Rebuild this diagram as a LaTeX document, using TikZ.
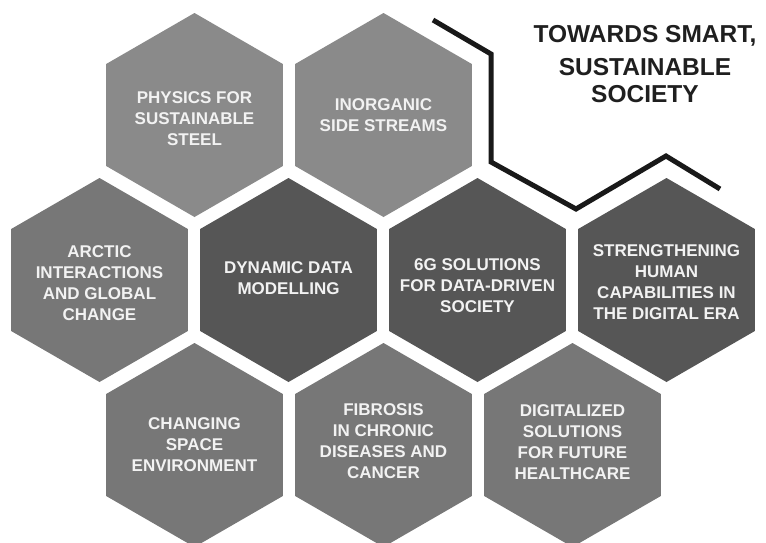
\documentclass[tikz,border=0pt]{standalone}
\usepackage{fontspec}
\setmainfont{Liberation Sans}
\usetikzlibrary{shapes.geometric,positioning}

\definecolor{paleCell}{HTML}{8A8A8A}
\definecolor{midCell}{HTML}{777777}
\definecolor{darkCell}{HTML}{565656}

\begin{document}
\begin{tikzpicture}[x=1pt, y=-1pt,
            cell/.style={regular polygon, regular polygon sides=6, shape border rotate=30,
                minimum size=204pt, inner sep=0pt},
            celltext/.style={text=white!95!black, align=center, inner sep=0pt,
                font=\fontsize{17}{21}\selectfont\bfseries},
            node distance=189pt]
        \useasboundingbox (0,0) rectangle (766,542);

        % top row
        \node[cell, fill=paleCell] (steel) at (194.5,115) {};
        \node[cell, fill=paleCell] (streams) [right of=steel] {};

        % middle row
        \node[cell, fill=midCell] (arctic) at (99.5,280) {};
        \node[cell, fill=darkCell] (data) [right of=arctic] {};
        \node[cell, fill=darkCell] (sixg) [right of=data] {};
        \node[cell, fill=darkCell] (human) [right of=sixg] {};

        % bottom row
        \node[cell, fill=midCell] (space) at (194.5,445) {};
        \node[cell, fill=midCell] (fibrosis) [right of=space] {};
        \node[cell, fill=midCell] (health) [right of=fibrosis] {};

        % labels
        \node[celltext] (steel-t) at ([yshift=-4pt]steel) {PHYSICS FOR\\SUSTAINABLE\\STEEL};
        \node[celltext] (streams-t) at (streams) {INORGANIC\\SIDE STREAMS};
        \node[celltext] (arctic-t) at ([yshift=-3pt]arctic) {ARCTIC\\INTERACTIONS\\AND GLOBAL\\CHANGE};
        \node[celltext] (data-t) at ([yshift=2pt]data) {DYNAMIC DATA\\MODELLING};
        \node[celltext] (sixg-t) at ([yshift=-6pt]sixg) {6G SOLUTIONS\\FOR DATA-DRIVEN\\SOCIETY};
        \node[celltext] (human-t) at ([yshift=-2pt]human) {STRENGTHENING\\HUMAN\\CAPABILITIES IN\\THE DIGITAL ERA};
        \node[celltext] (space-t) at (space) {CHANGING\\SPACE\\ENVIRONMENT};
        \node[celltext] (fibrosis-t) at ([yshift=4pt]fibrosis) {FIBROSIS\\IN CHRONIC\\DISEASES AND\\CANCER};
        \node[celltext] (health-t) at ([yshift=3pt]health) {DIGITALIZED\\SOLUTIONS\\FOR FUTURE\\HEALTHCARE};

        % title and its zigzag
        \node[align=center, font=\fontsize{24.5}{27}\selectfont\bfseries, text=black!88] (title) at (645,64)
            {TOWARDS SMART,\\[6pt]SUSTAINABLE\\SOCIETY};
        \draw[line width=5pt, black!90] (433,20) -- (491,54) -- (491,162) -- (576,209) -- (666,156) -- (720,189);
    \end{tikzpicture}
\end{document}
